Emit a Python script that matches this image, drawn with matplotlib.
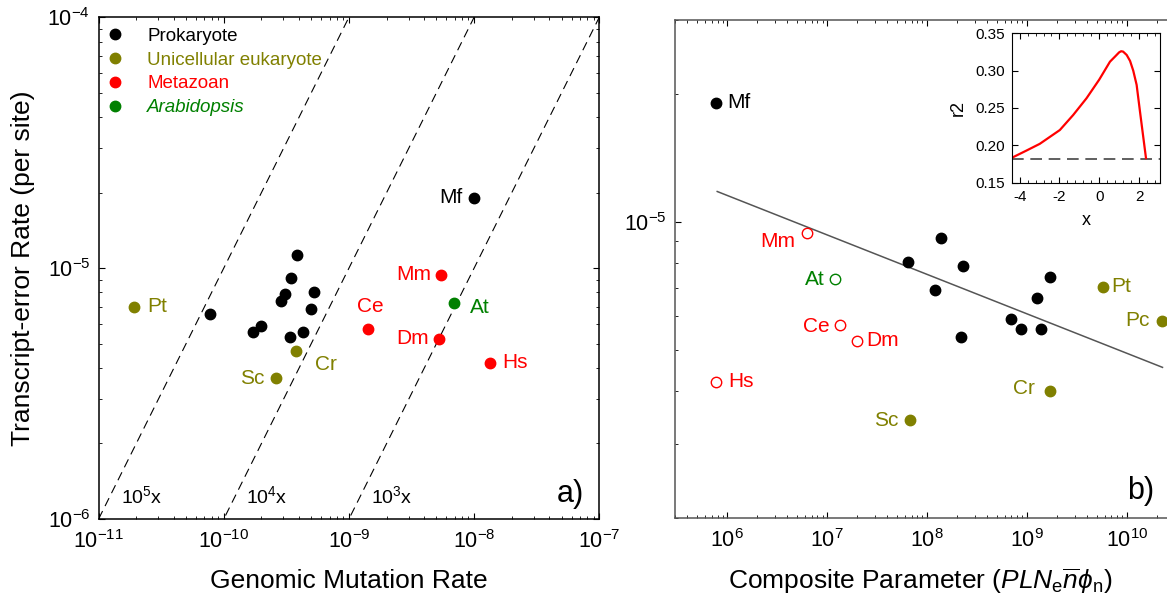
import matplotlib
matplotlib.use('Agg')
import matplotlib.pyplot as plt
import numpy as np
from matplotlib.lines import Line2D
from matplotlib.ticker import NullFormatter, MultipleLocator, AutoMinorLocator, FormatStrFormatter

plt.rcParams['font.family'] = ['Liberation Sans', 'DejaVu Sans']
plt.rcParams['mathtext.fontset'] = 'custom'
plt.rcParams['mathtext.rm'] = 'Liberation Sans'
plt.rcParams['mathtext.it'] = 'Liberation Sans:italic'
plt.rcParams['mathtext.bf'] = 'Liberation Sans:bold'
plt.rcParams['axes.unicode_minus'] = False

# ---- panel a data: genomic mutation rate vs transcript error rate
pro_mu = [7.83e-11, 1.70e-10, 2.0e-10, 2.88e-10, 3.09e-10, 3.36e-10, 3.44e-10,
          3.87e-10, 4.33e-10, 4.98e-10, 5.24e-10]
pro_err = [6.56e-6, 5.55e-6, 5.9e-6, 7.41e-6, 7.86e-6, 5.33e-6, 9.16e-6,
           1.127e-5, 5.58e-6, 6.87e-6, 8.0e-6]
mf_mu, mf_err = 9.9e-9, 1.91e-5

uni_names = ['Pt', 'Sc', 'Cr']
uni_mu = [1.92e-11, 2.63e-10, 3.76e-10]
uni_err = [7.02e-6, 3.64e-6, 4.69e-6]

met_names = ['Ce', 'Dm', 'Hs', 'Mm']
met_mu = [1.43e-9, 5.2e-9, 1.35e-8, 5.42e-9]
met_err = [5.72e-6, 5.23e-6, 4.2e-6, 9.39e-6]

ara_mu, ara_err = 6.93e-9, 7.28e-6

ratios = [1e5, 1e4, 1e3]
ratio_labels = [r'$10^5$x', r'$10^4$x', r'$10^3$x']

# ---- panel b data: composite parameter vs transcript error rate
pro_b_x = [6.47e7, 1.38e8, 2.28e8, 1.19e8, 1.71e9, 1.25e9, 7.0e8, 8.83e8, 1.40e9, 2.18e8]
pro_b_err = [8.03e-6, 9.16e-6, 7.87e-6, 6.9e-6, 7.42e-6, 6.63e-6, 5.9e-6, 5.58e-6, 5.58e-6, 5.34e-6]
mf_b_x = 7.76e5

uni_b_names = ['Sc', 'Cr', 'Pt', 'Pc']
uni_b_x = [6.8e7, 1.69e9, 5.75e9, 2.24e10]
uni_b_err = [3.41e-6, 4.0e-6, 7.03e-6, 5.85e-6]

met_b_names = ['Mm', 'Ce', 'Dm', 'Hs']
met_b_x = [6.28e6, 1.36e7, 2.0e7, 7.76e5]
met_b_err = [9.4e-6, 5.73e-6, 5.25e-6, 4.2e-6]

ara_b_x, ara_b_err = 1.21e7, 7.32e-6

fit_x = [7.94e5, 2.28e10]
fit_y = [1.18e-5, 4.54e-6]

# ---- inset: r2 vs x
ins_x = [-4.42, -3.66, -2.99, -1.98, -1.31, -0.64, 0.0, 0.54, 0.8, 1.0, 1.1, 1.2, 1.38, 1.55, 1.71, 1.88, 2.05, 2.19, 2.35]
ins_r2 = [0.183, 0.193, 0.202, 0.2205, 0.2406, 0.263, 0.288, 0.312, 0.319, 0.3245, 0.326, 0.3255, 0.321, 0.313, 0.3, 0.281, 0.245, 0.216, 0.183]
ins_base = 0.182

OLIVE = '#808000'
RED = '#ff0000'
GREEN = '#008000'
LBL = 15

fig = plt.figure(figsize=(11.67, 6.05), dpi=100)
W, H = 1167.0, 605.0

def px_axes(l, t, r, b):
    return fig.add_axes([l / W, 1 - b / H, (r - l) / W, (b - t) / H])

def lab(ax, x, y, s, c, dx, dy, ha):
    ax.annotate(s, (x, y), xytext=(dx, dy), textcoords='offset pixels',
                ha=ha, va='center', color=c, fontsize=LBL)

# ================= panel a =================
ax = px_axes(98.6, 17.2, 599.3, 519)
ax.set_xscale('log')
ax.set_yscale('log')
ax.set_xlim(1e-11, 1e-7)
ax.set_ylim(1e-6, 1e-4)

xx = np.array([1e-11, 1e-7])
for k, t in zip(ratios, ratio_labels):
    ax.plot(xx, k * xx, ls=(0, (8, 5)), color='black', lw=0.8)
    ax.text(1.5e-6 / k, 1.23e-6, t, fontsize=14, ha='left', va='center')

ms = 7.5
ax.plot(pro_mu, pro_err, 'o', color='black', ms=ms, ls='none')
ax.plot([mf_mu], [mf_err], 'o', color='black', ms=ms)
ax.plot(uni_mu, uni_err, 'o', color=OLIVE, ms=ms, ls='none')
ax.plot(met_mu, met_err, 'o', color=RED, ms=ms, ls='none')
ax.plot([ara_mu], [ara_err], 'o', color=GREEN, ms=ms)

lab(ax, mf_mu, mf_err, 'Mf', 'black', -11, 0, 'right')
a_off = {'Pt': (13, 0, 'left'), 'Sc': (-12, 0, 'right'), 'Cr': (19, -14, 'left')}
for n, x, y in zip(uni_names, uni_mu, uni_err):
    dx, dy, ha = a_off[n]
    lab(ax, x, y, n, OLIVE, dx, dy, ha)
a_off = {'Ce': (2, 22, 'center'), 'Dm': (-10, 0, 'right'), 'Hs': (12, 0, 'left'),
         'Mm': (-10, 0, 'right')}
for n, x, y in zip(met_names, met_mu, met_err):
    dx, dy, ha = a_off[n]
    lab(ax, x, y, n, RED, dx, dy, ha)
lab(ax, ara_mu, ara_err, 'At', GREEN, 16, -5, 'left')

handles = [Line2D([], [], marker='o', ls='none', color=c, ms=ms) for c in ['black', OLIVE, RED, GREEN]]
leg = ax.legend(handles, ['Prokaryote', 'Unicellular eukaryote', 'Metazoan', 'Arabidopsis'],
                loc='upper left', bbox_to_anchor=(0.0, 1.0), frameon=False, fontsize=13.5,
                handlelength=0.6, handletextpad=1.45, labelspacing=0.36, borderaxespad=0.3,
                borderpad=0.25)
for t, c in zip(leg.get_texts(), ['black', OLIVE, RED, GREEN]):
    t.set_color(c)
leg.get_texts()[3].set_fontstyle('italic')

ax.text(0.97, 0.05, 'a)', transform=ax.transAxes, fontsize=22, ha='right', va='center')
ax.set_xlabel('Genomic Mutation Rate', fontsize=19)
ax.xaxis.set_label_coords(0.5, -0.1)
ax.set_ylabel('Transcript-error Rate (per site)', fontsize=19)
ax.yaxis.set_label_coords(-0.128, 0.5)
ax.tick_params(which='both', direction='in', top=True, right=True, labelsize=15.5)
ax.tick_params(axis='x', which='major', length=4.5, pad=8)
ax.tick_params(axis='y', which='major', length=4.5, pad=6)
ax.tick_params(which='minor', length=2.5)
ax.yaxis.set_minor_formatter(NullFormatter())
ax.xaxis.set_minor_formatter(NullFormatter())
for s in ax.spines.values():
    s.set_linewidth(1.1)

# ================= panel b =================
bx = px_axes(675, 19.7, 1174.4, 518.3)
bx.set_xscale('log')
bx.set_yscale('log')
bx.set_xlim(3e5, 3e10)
bx.set_ylim(2e-6, 3e-5)

bx.plot(fit_x, fit_y, color='#555555', lw=1.1)
bx.plot(pro_b_x, pro_b_err, 'o', color='black', ms=ms, ls='none')
bx.plot([mf_b_x], [mf_err], 'o', color='black', ms=ms)
bx.plot(uni_b_x, uni_b_err, 'o', color=OLIVE, ms=ms, ls='none', clip_on=False)
bx.plot(met_b_x, met_b_err, 'o', mfc='none', mec=RED, mew=1.0, ms=ms, ls='none')
bx.plot([ara_b_x], [ara_b_err], 'o', mfc='none', mec=GREEN, mew=1.0, ms=ms)

lab(bx, mf_b_x, mf_err, 'Mf', 'black', 11, 0, 'left')
b_off = {'Sc': (-12, 0, 'right'), 'Cr': (-15, 2, 'right'), 'Pt': (9, 0, 'left'),
         'Pc': (-12, 0, 'right')}
for n, x, y in zip(uni_b_names, uni_b_x, uni_b_err):
    dx, dy, ha = b_off[n]
    lab(bx, x, y, n, OLIVE, dx, dy, ha)
b_off = {'Mm': (-12, -8, 'right'), 'Ce': (-11, -2, 'right'), 'Dm': (9, 0, 'left'),
         'Hs': (12, 0, 'left')}
for n, x, y in zip(met_b_names, met_b_x, met_b_err):
    dx, dy, ha = b_off[n]
    lab(bx, x, y, n, RED, dx, dy, ha)
lab(bx, ara_b_x, ara_b_err, 'At', GREEN, -11, 0, 'right')

bx.text(0.906, 0.055, 'b)', transform=bx.transAxes, fontsize=22, ha='left', va='center')
bx.set_xlabel(r'Composite Parameter ($PLN_{\rm e}\overline{n}\phi_{\rm n}$)', fontsize=19)
bx.xaxis.set_label_coords(0.492, -0.096)
bx.tick_params(which='both', direction='in', top=True, right=True, labelsize=15.5)
bx.tick_params(axis='x', which='major', length=4.5, pad=8)
bx.tick_params(axis='y', which='major', length=4.5, pad=6)
bx.tick_params(which='minor', length=2.5)
bx.yaxis.set_minor_formatter(NullFormatter())
bx.xaxis.set_minor_formatter(NullFormatter())
for s in bx.spines.values():
    s.set_color('#555555')
    s.set_linewidth(1.1)

# ================= inset =================
ix = px_axes(1011.7, 33.3, 1160.3, 182.7)
ix.plot([-4.4, 3.1], [ins_base, ins_base], color='#444444', lw=1.2, ls=(0, (7, 4)))
ix.plot(ins_x, ins_r2, color='#ff0000', lw=1.6)
ix.set_xlim(-4.4, 3.07)
ix.set_ylim(0.15, 0.35)
ix.xaxis.set_major_locator(MultipleLocator(2))
ix.xaxis.set_minor_locator(AutoMinorLocator(5))
ix.yaxis.set_major_locator(MultipleLocator(0.05))
ix.yaxis.set_major_formatter(FormatStrFormatter('%.2f'))
ix.tick_params(which='both', direction='in', top=True, right=True, labelsize=11)
ix.tick_params(which='major', length=4, pad=5)
ix.tick_params(which='minor', length=2)
ix.set_xlabel('x', fontsize=13, labelpad=6)
ix.set_ylabel('r2', fontsize=13, labelpad=6)

fig.savefig('out.png', dpi=100)
